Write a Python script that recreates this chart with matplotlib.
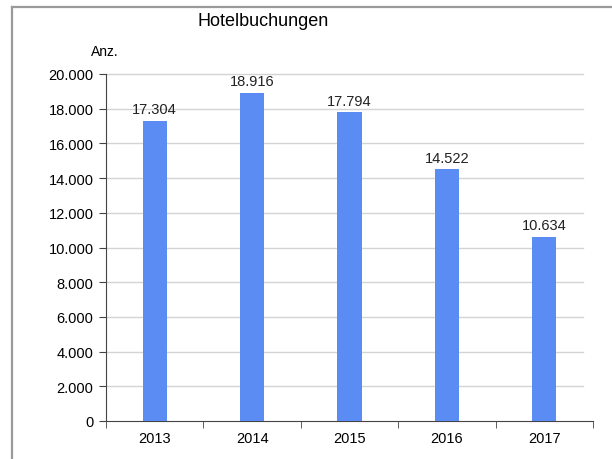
import matplotlib
matplotlib.use("Agg")
import matplotlib.pyplot as plt
from matplotlib.lines import Line2D
from matplotlib.ticker import FuncFormatter, FixedLocator

years = ["2013", "2014", "2015", "2016", "2017"]
values = [17304, 18916, 17794, 14522, 10634]
yticks = list(range(0, 20001, 2000))

plt.rcParams['font.family'] = ['Liberation Sans', 'DejaVu Sans']

fig = plt.figure(figsize=(6.12, 4.6), dpi=100)
# partial frame: top and left edges only
fig.lines.append(Line2D([12/612, 1.0], [1 - 8/460, 1 - 8/460], transform=fig.transFigure,
                        color="#9a9a9a", linewidth=1.6))
fig.lines.append(Line2D([12/612, 12/612], [0.0, 1 - 8/460], transform=fig.transFigure,
                        color="#9a9a9a", linewidth=1.6))

ax = fig.add_axes([106/612, 38/460, 487/612, 347/460])

x = list(range(len(years)))
ax.bar(x, values, width=0.25, color="#5a8cf3", zorder=3)
for xi, v in zip(x, values):
    ax.text(xi, v + 250, f"{v:,}".replace(",", "."), ha="center", va="bottom",
            fontsize=10.5, color="#222222")

ax.set_xlim(-0.5, len(years) - 0.5)
ax.set_ylim(0, 20000)
ax.yaxis.set_major_locator(FixedLocator(yticks))
ax.yaxis.set_major_formatter(FuncFormatter(lambda v, p: f"{int(v):,}".replace(",", ".")))
ax.set_xticks(x)
ax.set_xticklabels(years)
ax.set_xticks([i - 0.5 for i in range(len(years) + 1)], minor=True)
ax.tick_params(axis="x", which="major", length=0, pad=7, labelsize=10.5)
ax.tick_params(axis="x", which="minor", length=5, direction="out", color="#444444")
ax.tick_params(axis="y", length=5, direction="out", color="#444444", labelsize=10.5, pad=4)

for y in yticks[1:]:
    ax.plot([-0.5, len(years) - 0.6], [y, y], color="#d4d4d4", linewidth=1.0, zorder=1,
            clip_on=False)

for s in ["top", "right"]:
    ax.spines[s].set_visible(False)
ax.spines["left"].set_color("#444444")
ax.spines["bottom"].set_color("#444444")

fig.text(263/612, 1 - 22/460, "Hotelbuchungen", ha="center", va="center", fontsize=13)
fig.text(105/612, 1 - 52/460, "Anz.", ha="center", va="center", fontsize=10)

fig.savefig("out.png", dpi=100)
